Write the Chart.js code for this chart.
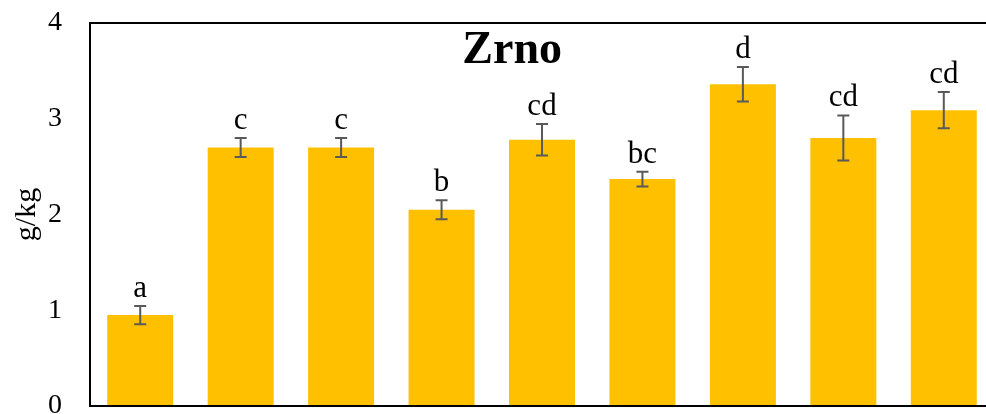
<!DOCTYPE html>
<html>
<head>
<meta charset="utf-8">
<script src="https://cdn.jsdelivr.net/npm/chart.js@4/dist/chart.umd.min.js"></script>
<style>
  html, body { margin: 0; padding: 0; background: #fff; overflow: hidden; }
  #wrap { width: 1000px; height: 414px; }
</style>
</head>
<body>
<div id="wrap"><canvas id="zrnoChart" width="1000" height="414"></canvas></div>
<script>
const categories = ["1", "2", "3", "4", "5", "6", "7", "8", "9"];
const values = [0.95, 2.70, 2.70, 2.05, 2.78, 2.37, 3.36, 2.80, 3.09];
const errors = [0.095, 0.10, 0.10, 0.10, 0.165, 0.077, 0.18, 0.235, 0.19];
const letters = ["a", "c", "c", "b", "cd", "bc", "d", "cd", "cd"];
const yTicks = [0, 1, 2, 3, 4];

const serif = "'Liberation Serif', 'Times New Roman', serif";

// error bars + significance letters
const errorBarPlugin = {
  id: "errorBars",
  afterDatasetsDraw(chart) {
    const ctx = chart.ctx;
    const y = chart.scales.y;
    const meta = chart.getDatasetMeta(0);
    ctx.save();
    meta.data.forEach((bar, i) => {
      const top = y.getPixelForValue(values[i] + errors[i]);
      const bottom = y.getPixelForValue(values[i] - errors[i]);
      ctx.strokeStyle = "#595959";
      ctx.lineWidth = 2;
      ctx.beginPath();
      ctx.moveTo(bar.x, top);
      ctx.lineTo(bar.x, bottom);
      ctx.moveTo(bar.x - 6, top);
      ctx.lineTo(bar.x + 6, top);
      ctx.moveTo(bar.x - 6, bottom);
      ctx.lineTo(bar.x + 6, bottom);
      ctx.stroke();

      ctx.fillStyle = "#000";
      ctx.font = "31px " + serif;
      ctx.textAlign = "center";
      ctx.textBaseline = "alphabetic";
      ctx.fillText(letters[i], bar.x, top - 9);
    });

    // title sits inside the plot area
    const area = chart.chartArea;
    ctx.font = "bold 46px " + serif;
    ctx.fillText("Zrno", area.left + (area.right - area.left) * 0.467, area.top + 40);
    ctx.restore();
  }
};

new Chart(document.getElementById("zrnoChart"), {
  type: "bar",
  data: {
    labels: categories,
    datasets: [{
      data: values,
      backgroundColor: "#FFC000",
      borderWidth: 0,
      barPercentage: 0.657,
      categoryPercentage: 1
    }]
  },
  options: {
    responsive: false,
    animation: false,
    devicePixelRatio: 1,
    layout: { padding: { top: 23, right: 6, left: 0, bottom: 0 } },
    plugins: {
      legend: { display: false },
      tooltip: { enabled: false }
    },
    scales: {
      x: {
        ticks: { display: false },
        grid: { display: false, drawTicks: false },
        border: { display: true, color: "#000", width: 2 },
        afterFit: (s) => { s.height = 8; }
      },
      y: {
        min: 0,
        max: 4,
        afterBuildTicks: (s) => { s.ticks = yTicks.map((v) => ({ value: v })); },
        ticks: {
          color: "#000",
          padding: 28,
          font: { family: serif, size: 28 }
        },
        grid: {
          drawTicks: false,
          lineWidth: 2,
          color: (c) => (c.tick && c.tick.value === 4 ? "#000" : "rgba(0,0,0,0)")
        },
        border: { display: true, color: "#000", width: 2 },
        title: {
          display: true,
          text: "g/kg",
          color: "#000",
          padding: { top: 9, bottom: 0 },
          font: { family: serif, size: 30 }
        },
        afterFit: (s) => {
          s.width = 90;
          s.paddingTop = 0;
          s.paddingBottom = 0;
        }
      }
    }
  },
  plugins: [errorBarPlugin]
});
</script>
</body>
</html>
